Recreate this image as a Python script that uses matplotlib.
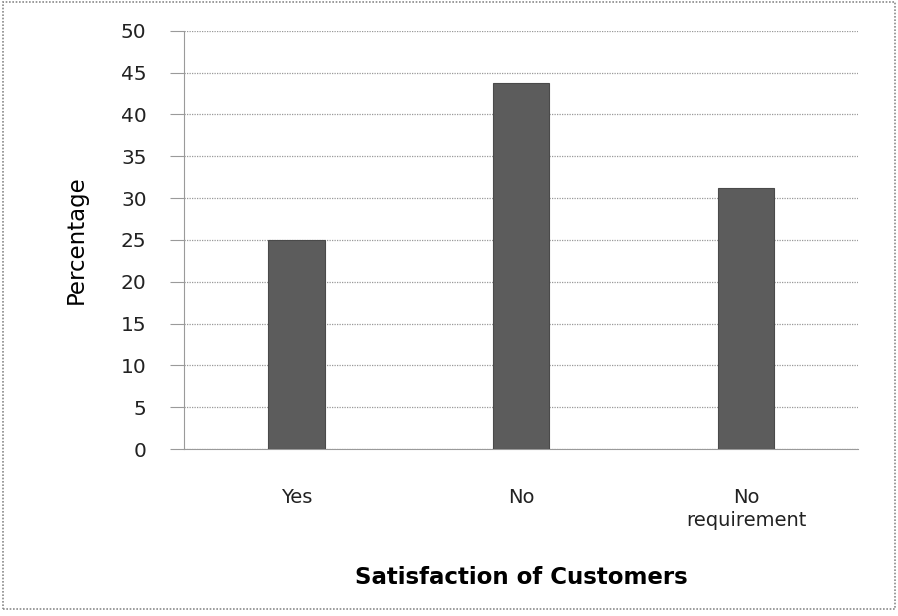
import matplotlib.pyplot as plt
from matplotlib.patches import Rectangle

# survey answers (percent of respondents)
answers = ["Yes", "No", "No\nrequirement"]
percent = [25, 43.75, 31.25]
y_ticks = list(range(0, 55, 5))

fig = plt.figure(figsize=(8.98, 6.16), dpi=100)
ax = fig.add_axes([0.205, 0.271, 0.751, 0.679])

ax.bar(range(len(answers)), percent, width=0.25, color="#5c5c5c",
       edgecolor="#4a4a4a", linewidth=0.8, zorder=3)

ax.set_xlim(-0.5, 2.5)
ax.set_ylim(0, 50)
ax.set_yticks(y_ticks)
ax.set_xticks(range(len(answers)))
ax.set_xticklabels(answers, fontsize=14, family="DejaVu Sans", color="#222222",
                   linespacing=1.25)
ax.set_yticklabels([str(t) for t in y_ticks], fontsize=14.5, family="DejaVu Sans",
                   color="#222222")

ax.grid(axis="y", color="#999999", linestyle=(0, (1, 1)), linewidth=0.9, zorder=0)
for side in ["top", "right"]:
    ax.spines[side].set_visible(False)
ax.spines["left"].set_color("#9a9a9a")
ax.spines["left"].set_linestyle((0, (1, 1)))
ax.spines["bottom"].set_color("#9a9a9a")
ax.spines["bottom"].set_linestyle((0, (1, 1)))
ax.tick_params(axis="y", length=10, color="#9a9a9a", pad=17)
ax.tick_params(axis="x", length=0, pad=28)

ax.set_ylabel("Percentage", fontsize=16.5, family="Liberation Sans Narrow",
              labelpad=24)
ax.set_xlabel("Satisfaction of Customers", fontsize=16.5, family="DejaVu Sans",
              fontweight="bold", labelpad=26)

# border round the whole chart
fig.patches.append(Rectangle((0.003, 0.012), 0.994, 0.985, transform=fig.transFigure,
                             fill=False, edgecolor="#8a8a8a", linewidth=1.2,
                             linestyle=(0, (1, 1))))

fig.savefig("out.png", dpi=100)
